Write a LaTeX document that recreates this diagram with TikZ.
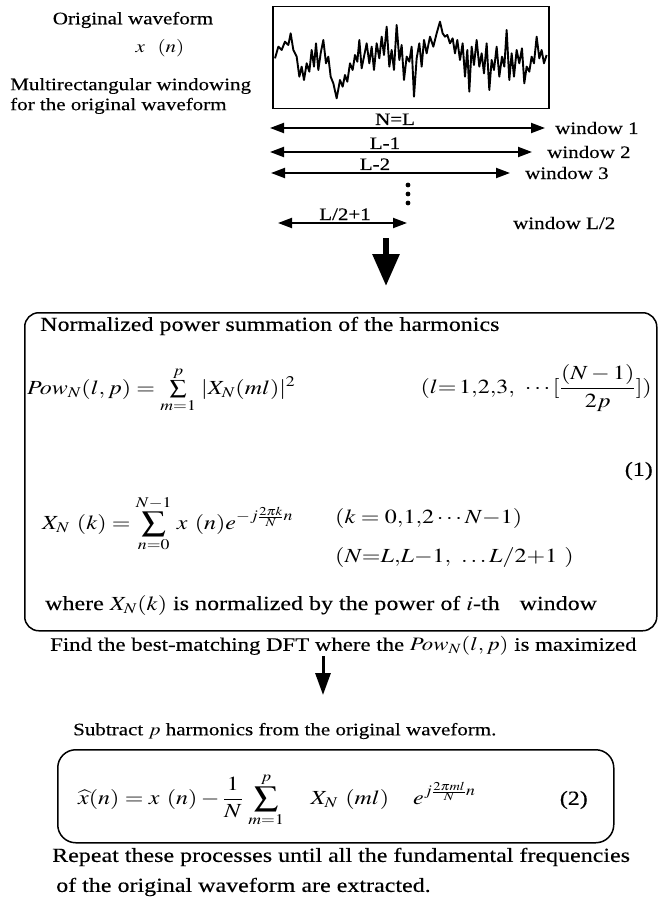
\documentclass[tikz,border=0pt]{standalone}
\usepackage{mathptmx}
\usepackage{fontspec}
\setmainfont{Liberation Serif}[FakeStretch=1.2, FakeBold=0.3]
\usepackage{graphicx}
\usetikzlibrary{arrows.meta,positioning}

% math set a little wider, like the scanned text
\newcommand{\wm}[1]{\scalebox{1.2}[1]{$#1$}}

\begin{document}
\begin{tikzpicture}[x=1pt, y=-1pt,
    txt/.style={inner sep=0pt, font=\fontsize{20}{24}\selectfont},
    lbl/.style={inner sep=0pt, font=\fontsize{17.5}{20}\selectfont},
    panel/.style={draw, line width=1.5pt, rounded corners=14pt, inner sep=0pt},
    winarrow/.style={line width=2pt, {Triangle[length=14pt,width=10pt]}-{Triangle[length=14pt,width=10pt]}},
    bigarrow/.style={line width=6pt, -{Triangle[length=32pt,width=26pt]}},
    smallarrow/.style={line width=3pt, -{Triangle[length=22pt,width=15pt]}},
    wave/.style={line width=1.9pt, line join=round}]

  \fill[white] (0,0) rectangle (659,904);
  \useasboundingbox (0,0) rectangle (659,904);

  % -- Original waveform -------------------------------------------
  \node[lbl] (orig) at (133,20) {Original waveform};
  \node[lbl] (xn) at (160,48) {\wm{x\ \ (n)}};
  \node[lbl, anchor=west, align=left] (multi) at (10,96)
    {Multirectangular windowing\\for the original waveform};

  \node[draw, line width=1.5pt, anchor=north west, inner sep=0pt,
        minimum width=276pt, minimum height=102pt] (wavebox) at (272,6) {};
  \begin{scope}[shift={(260,0)}, scale=0.3333]
    \draw[wave] plot coordinates {(45,175) (55,140) (65,150) (75,125) (85,135) (92,100)
      (100,150) (110,170) (118,230) (125,200) (132,240) (140,190) (148,215) (155,150)
      (162,200) (168,130) (175,210) (182,160) (190,120) (198,190) (205,170) (212,230)
      (220,250) (230,295) (240,240) (248,260) (255,225) (262,245) (270,190) (278,210)
      (285,165) (292,185) (298,120) (305,205) (312,170) (320,130) (328,190) (335,140)
      (342,210) (350,130) (358,175) (365,110) (372,165) (380,80) (388,200) (395,150)
      (402,210) (410,75) (418,180) (425,135) (432,240) (440,170) (448,185) (455,140)
      (462,290) (470,175) (478,130) (485,200) (492,120) (500,160) (510,110) (520,140)
      (530,100) (540,65) (548,100) (555,110) (562,105) (570,130) (578,115) (585,160)
      (592,120) (600,180) (608,130) (615,230) (622,150) (628,275) (635,140) (642,195)
      (650,120) (658,200) (665,160) (672,220) (680,130) (688,270) (695,180) (702,210)
      (710,140) (718,230) (726,170) (733,200) (740,90) (748,240) (755,160) (762,230)
      (770,150) (778,190) (786,145) (793,250) (800,200) (808,215) (815,170) (822,190)
      (830,110) (838,175) (845,150) (852,190) (860,165)};
  \end{scope}

  % -- Windows ---------------------------------------------------------
  \foreach \i/\y/\xl/\xr/\len/\lx/\wx/\wname in {
      1/128/270/545/{N=L}/395/555/{window 1},
      2/152/270/532/{L-1}/385/547/{window 2},
      3/173/271/510/{L-2}/375/525/{window 3},
      4/223/278/407/{L/2+1}/345/513/{window L/2}}{
    \coordinate (wl\i) at (\xl,\y);
    \coordinate (wr\i) at (\xr,\y);
    \draw[winarrow] (wl\i) -- (wr\i);
    \node[lbl, anchor=base] (len\i) at (\lx,\y-3) {\len};
    \node[lbl, anchor=base west] (wn\i) at (\wx,\y+6) {\wname};
  }
  \foreach \d in {185,194,203}{
    \fill (408,\d) circle (2.4);
  }

  \coordinate (bigtop) at (386,238);
  \coordinate (bigtip) at (386,286);
  \draw[bigarrow] (bigtop) -- (bigtip);

  % -- Normalized power summation --------------------------------------
  \node[panel, anchor=north west, minimum width=632pt, minimum height=318pt] (powbox) at (24,312) {};
  \node[txt, anchor=west] (powtitle) at (40,326) {Normalized power summation of the harmonics};
  \node[txt, anchor=west] (poweq) at (27,390)
    {\wm{Pow_N(l,p) = \sum\limits_{m=1}^{p}\, |X_N(ml)|^2}};
  \node[txt, anchor=east] (lrange) at (652,388)
    {\wm{\displaystyle (l{=}\,1{,}2{,}3{,}\ \cdots[\frac{(N-1)}{2p}])}};
  \node[txt, anchor=east] (eqone) at (653,471) {(1)};
  \node[txt, anchor=west] (xneq) at (42,524)
    {\wm{\displaystyle X_N\ (k) = \sum_{n=0}^{N-1}\, x\ (n)e^{-j\frac{2\pi k}{N}n}}};
  \node[txt, anchor=west] (krange) at (335,518) {\wm{(k = 0{,}1{,}2\cdots N{-}1)}};
  \node[txt, anchor=west] (nrange) at (335,557) {\wm{(N{=}L{,}L{-}1{,}\ \ldots L/2{+}1\ )}};
  \node[txt, anchor=west] (where) at (45,605)
    {where \wm{X_N(k)} is normalized by the power of \wm{i}-th\quad window};

  \node[txt, font=\fontsize{19}{23}\selectfont, anchor=west] (find) at (50,646)
    {Find the best-matching DFT where the \wm{Pow_N(l,p)} is maximized};
  \coordinate (smtop) at (323,656);
  \coordinate (smtip) at (323,695);
  \draw[smallarrow] (smtop) -- (smtip);

  % -- Subtraction -----------------------------------------------------
  \node[txt, font=\fontsize{17.5}{21}\selectfont, anchor=west] (subtract) at (73,731)
    {Subtract \wm{p} harmonics from the original waveform.};
  \node[panel, rounded corners=18pt, anchor=north west, minimum width=556pt, minimum height=93pt] (subbox) at (57,749) {};
  \node[txt, anchor=west] (subeq) at (78,800)
    {\wm{\displaystyle \widehat{x}(n) = x\ (n) - \frac{1}{N}\,\sum_{m=1}^{p}\quad X_N\ (ml)\quad e^{j\frac{2\pi ml}{N}n}}};
  \node[txt, anchor=east] (eqtwo) at (588,800) {(2)};
  \node[txt, font=\fontsize{20}{30}\selectfont, anchor=west, align=left] (repeat) at (52,872)
    {Repeat these processes until all the fundamental frequencies\\\hspace{4pt}of the original waveform are extracted.};

\end{tikzpicture}
\end{document}
